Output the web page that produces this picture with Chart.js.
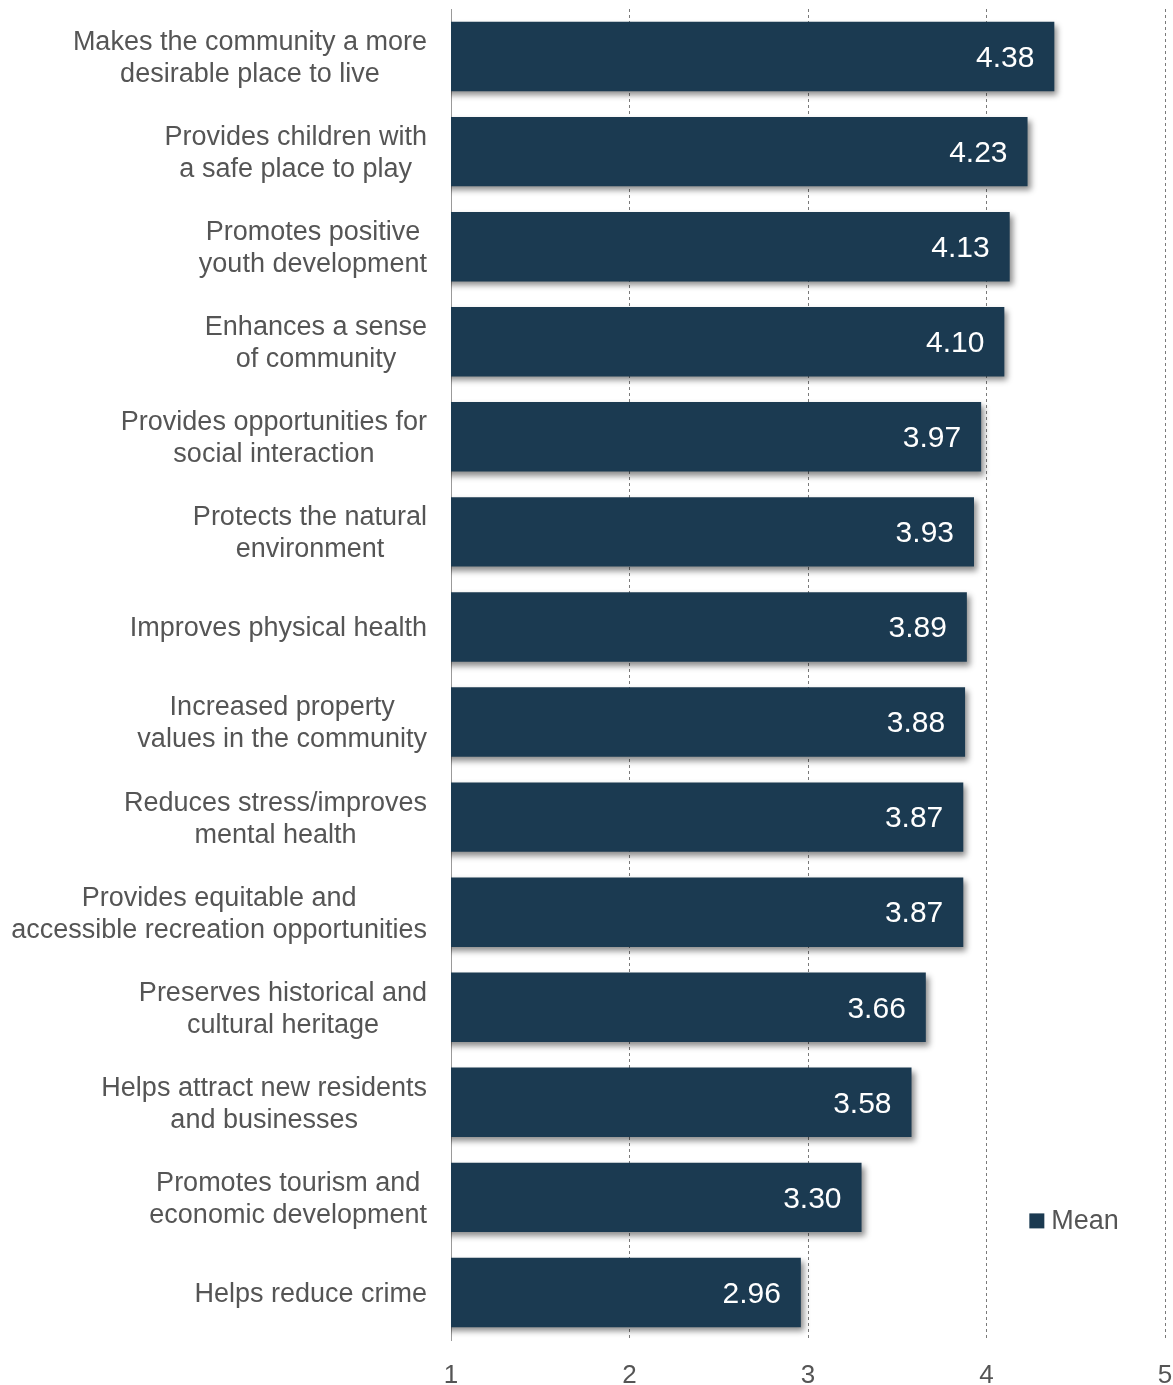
<!DOCTYPE html>
<html>
<head>
<meta charset="utf-8">
<script src="https://cdn.jsdelivr.net/npm/chart.js@4.4.0/dist/chart.umd.min.js"></script>
<style>
  html, body { margin: 0; padding: 0; background: #fff; }
  #wrap { width: 1173px; height: 1385px; }
</style>
</head>
<body>
<div id="wrap"><canvas id="chart-area"></canvas></div>
<script>
var categories = [
  ['Makes the community a more', 'desirable place to live'],
  ['Provides children with', 'a safe place to play'],
  ['Promotes positive', 'youth development'],
  ['Enhances a sense', 'of community'],
  ['Provides opportunities for', 'social interaction'],
  ['Protects the natural', 'environment'],
  ['Improves physical health'],
  ['Increased property', 'values in the community'],
  ['Reduces stress/improves', 'mental health'],
  ['Provides equitable and', 'accessible recreation opportunities'],
  ['Preserves historical and', 'cultural heritage'],
  ['Helps attract new residents', 'and businesses'],
  ['Promotes tourism and', 'economic development'],
  ['Helps reduce crime']
];
var meanValues = [4.38, 4.23, 4.13, 4.10, 3.97, 3.93, 3.89, 3.88, 3.87, 3.87, 3.66, 3.58, 3.30, 2.96];
var xTicks = [1, 2, 3, 4, 5];
var seriesName = 'Mean';

var barColor = '#1b3a51';
var textColor = '#555555';
var fontFamily = '"Liberation Sans", Arial, Helvetica, sans-serif';

// bars get a soft drop shadow
var shadowPlugin = {
  id: 'barShadow',
  beforeDatasetsDraw: function (chart) {
    var ctx = chart.ctx;
    ctx.save();
    ctx.shadowColor = 'rgba(0,0,0,0.45)';
    ctx.shadowBlur = 6;
    ctx.shadowOffsetX = 3;
    ctx.shadowOffsetY = 4;
  },
  afterDatasetsDraw: function (chart) {
    chart.ctx.restore();
  }
};

// category labels: block right aligned, lines centred inside block
var labelPlugin = {
  id: 'catLabels',
  afterDraw: function (chart) {
    var ctx = chart.ctx;
    var yScale = chart.scales.y;
    var right = chart.chartArea.left - 24;
    var lineH = 32;
    ctx.save();
    ctx.font = '27px ' + fontFamily;
    ctx.fillStyle = textColor;
    ctx.textAlign = 'center';
    ctx.textBaseline = 'middle';
    categories.forEach(function (lines, i) {
      var w = 0;
      lines.forEach(function (l) { w = Math.max(w, ctx.measureText(l).width); });
      var cx = right - w / 2;
      var cy = yScale.getPixelForValue(i) + 2;
      var y0 = cy - (lines.length - 1) * lineH / 2;
      lines.forEach(function (l, k) {
        ctx.fillText(l, cx, y0 + k * lineH);
      });
    });

    // value labels inside the bar ends
    var meta = chart.getDatasetMeta(0);
    ctx.font = '30px ' + fontFamily;
    ctx.fillStyle = '#ffffff';
    ctx.textAlign = 'right';
    meta.data.forEach(function (bar, i) {
      ctx.fillText(meanValues[i].toFixed(2), bar.x - 20, bar.y + 2);
    });

    // legend
    var xScale = chart.scales.x;
    var lx = xScale.getPixelForValue(4.24);
    var ly = yScale.getPixelForValue(12) + 24;
    ctx.fillStyle = barColor;
    ctx.fillRect(lx, ly - 8, 15, 15);
    ctx.font = '27px ' + fontFamily;
    ctx.fillStyle = textColor;
    ctx.textAlign = 'left';
    ctx.fillText(seriesName, lx + 22, ly);
    ctx.restore();
  }
};

var config = {
  type: 'bar',
  data: {
    labels: categories,
    datasets: [{
      label: seriesName,
      data: meanValues,
      backgroundColor: barColor,
      borderWidth: 0,
      barPercentage: 0.73,
      categoryPercentage: 1.0
    }]
  },
  options: {
    indexAxis: 'y',
    responsive: true,
    maintainAspectRatio: false,
    animation: false,
    layout: { padding: { top: 9, right: 8, bottom: 0, left: 0 } },
    plugins: {
      legend: { display: false },
      tooltip: { enabled: false }
    },
    scales: {
      x: {
        type: 'linear',
        min: 1,
        max: 5,
        afterBuildTicks: function (scale) {
          scale.ticks = xTicks.map(function (v) { return { value: v }; });
        },
        afterFit: function (scale) {
          scale.height = 45;
          scale.paddingRight = 0;
          scale.paddingLeft = 0;
        },
        ticks: {
          color: textColor,
          font: { family: fontFamily, size: 26 },
          padding: 20
        },
        grid: {
          drawTicks: false,
          color: function (c) { return c.tick && c.tick.value === 1 ? 'rgba(0,0,0,0)' : '#7a7a7a'; },
          lineWidth: 1
        },
        border: { display: false, dash: [3, 3] }
      },
      y: {
        type: 'category',
        afterFit: function (scale) { scale.width = 451; },
        ticks: { display: false },
        grid: { display: false, drawTicks: false },
        border: { display: true, color: '#9a9a9a', width: 1 }
      }
    }
  },
  plugins: [shadowPlugin, labelPlugin]
};

window.onload = function () {
  var ctx = document.getElementById('chart-area').getContext('2d');
  window.myBar = new Chart(ctx, config);
};
</script>
</body>
</html>
